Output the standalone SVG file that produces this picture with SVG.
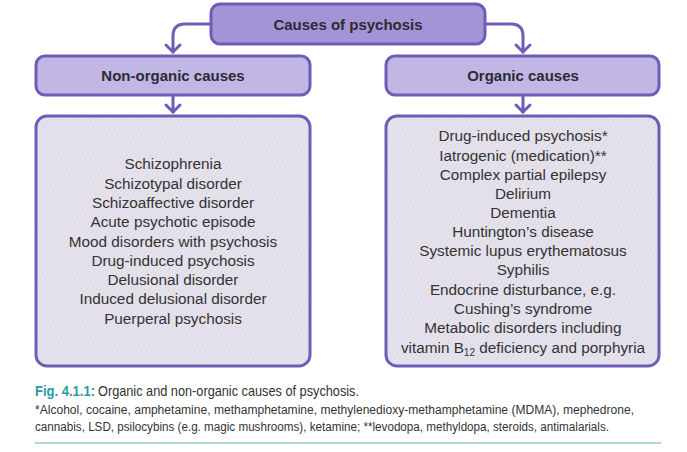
<svg xmlns="http://www.w3.org/2000/svg" width="687" height="452" viewBox="0 0 687 452">
<defs>
<pattern id="hatch" width="4" height="4" patternUnits="userSpaceOnUse" patternTransform="rotate(35)">
<rect width="4" height="4" fill="#e5e2ec"/>
<line x1="0" y1="0" x2="0" y2="4" stroke="#d6d2e0" stroke-width="1"/>
</pattern>
</defs>
<style>
.box{stroke:#6e5db6;stroke-width:3}
.top{fill:#a494d5}
.mid{fill:#c2b6e4}
.low{fill:url(#hatch)}
.hd{font-family:"Liberation Sans",Arial,sans-serif;font-weight:bold;font-size:15px;fill:#2b2b33;text-anchor:middle}
.it{font-family:"Liberation Sans",Arial,sans-serif;font-size:15.3px;fill:#333;text-anchor:middle}
.conn{fill:none;stroke:#6e5db6;stroke-width:3;stroke-linecap:round;stroke-linejoin:round}
.cap{font-family:"Liberation Sans",Arial,sans-serif;fill:#333}
.fig{font-family:"Liberation Sans",Arial,sans-serif;fill:#2b9a9c;font-weight:bold}
</style>
<g id="connectors">
<path class="conn" d="M211,24 H185 Q173,24 173,36 V52"/>
<path class="conn" d="M166,45 L173,52 L180,45"/>
<path class="conn" d="M485,24 H511 Q523,24 523,36 V52"/>
<path class="conn" d="M516,45 L523,52 L530,45"/>
<path class="conn" d="M173,96 V112"/>
<path class="conn" d="M166,105 L173,112 L180,105"/>
<path class="conn" d="M523,96 V112"/>
<path class="conn" d="M516,105 L523,112 L530,105"/>
</g>
<g id="causes">
<rect class="box top" x="211" y="4" width="274" height="40" rx="9"/>
<text class="hd" x="348" y="30">Causes of psychosis</text>
</g>
<g id="non-organic">
<rect class="box mid" x="36" y="56" width="274" height="39" rx="9"/>
<text class="hd" x="173" y="81">Non-organic causes</text>
</g>
<g id="organic">
<rect class="box mid" x="386" y="56" width="273" height="39" rx="9"/>
<text class="hd" x="523" y="81">Organic causes</text>
</g>
<g id="non-organic-list">
<rect class="box low" x="36" y="116" width="274" height="250" rx="11"/>
<text class="it" x="173" y="169">Schizophrenia</text>
<text class="it" x="173" y="189">Schizotypal disorder</text>
<text class="it" x="173" y="208">Schizoaffective disorder</text>
<text class="it" x="173" y="227">Acute psychotic episode</text>
<text class="it" x="173" y="247">Mood disorders with psychosis</text>
<text class="it" x="173" y="266">Drug-induced psychosis</text>
<text class="it" x="173" y="285">Delusional disorder</text>
<text class="it" x="173" y="304">Induced delusional disorder</text>
<text class="it" x="173" y="324">Puerperal psychosis</text>
</g>
<g id="organic-list">
<rect class="box low" x="386" y="116" width="273" height="250" rx="11"/>
<text class="it" x="523" y="141">Drug-induced psychosis*</text>
<text class="it" x="523" y="161">Iatrogenic (medication)**</text>
<text class="it" x="523" y="180">Complex partial epilepsy</text>
<text class="it" x="523" y="199">Delirium</text>
<text class="it" x="523" y="218">Dementia</text>
<text class="it" x="523" y="237">Huntington’s disease</text>
<text class="it" x="523" y="256">Systemic lupus erythematosus</text>
<text class="it" x="523" y="275">Syphilis</text>
<text class="it" x="523" y="295">Endocrine disturbance, e.g.</text>
<text class="it" x="523" y="314">Cushing’s syndrome</text>
<text class="it" x="523" y="333">Metabolic disorders including</text>
<text class="it" x="523" y="353">vitamin B<tspan font-size="10" dy="3">12</tspan><tspan dy="-3"> deficiency and porphyria</tspan></text>
</g>
<g id="caption">
<text class="fig" x="35" y="396" font-size="15" textLength="60" lengthAdjust="spacingAndGlyphs">Fig. 4.1.1:</text>
<text class="cap" x="98" y="396" font-size="15" textLength="261" lengthAdjust="spacingAndGlyphs">Organic and non-organic causes of psychosis.</text>
<text class="cap" x="35" y="414" font-size="12" textLength="599" lengthAdjust="spacingAndGlyphs">*Alcohol, cocaine, amphetamine, methamphetamine, methylenedioxy-methamphetamine (MDMA), mephedrone,</text>
<text class="cap" x="35" y="431" font-size="12" textLength="574" lengthAdjust="spacingAndGlyphs">cannabis, LSD, psilocybins (e.g. magic mushrooms), ketamine; **levodopa, methyldopa, steroids, antimalarials.</text>
<line x1="35" y1="443" x2="661" y2="443" stroke="#6ab0b0" stroke-width="1.2"/>
</g>
</svg>
